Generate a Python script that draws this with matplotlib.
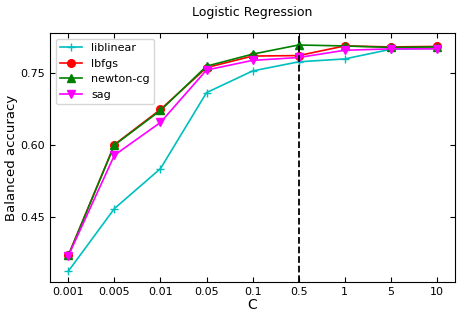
import matplotlib
matplotlib.use("Agg")
import matplotlib.pyplot as plt


C_LABELS = ["0.001", "0.005", "0.01", "0.05", "0.1", "0.5", "1", "5", "10"]
LIBLINEAR = [0.338, 0.468, 0.551, 0.709, 0.754, 0.773, 0.779, 0.799, 0.801]
LBFGS = [0.371, 0.601, 0.674, 0.761, 0.785, 0.786, 0.806, 0.804, 0.805]
NEWTON_CG = [0.371, 0.600, 0.672, 0.764, 0.789, 0.808, 0.806, 0.803, 0.804]
SAG = [0.370, 0.579, 0.647, 0.756, 0.776, 0.782, 0.797, 0.800, 0.800]
BEST_C = "0.5"

SERIES = [
    ("liblinear", LIBLINEAR, "c", "+"),
    ("lbfgs", LBFGS, "r", "o"),
    ("newton-cg", NEWTON_CG, "g", "^"),
    ("sag", SAG, "magenta", "v"),
]


def main():
    fig = plt.figure(figsize=(4.63, 3.17), dpi=100)
    ax = fig.add_axes([0.108, 0.110, 0.875, 0.786])
    x = list(range(len(C_LABELS)))

    for label, values, color, marker in SERIES:
        ax.plot(x, values, color=color, marker=marker, markersize=5.5,
                linewidth=1.2, label=label)

    # best C marked with a dashed line
    ax.axvline(x=C_LABELS.index(BEST_C), color="black", linestyle="--", linewidth=1.3)

    ax.set_xticks(x)
    ax.set_xticklabels(C_LABELS)
    ax.set_yticks([0.45, 0.60, 0.75])
    ax.set_ylim(0.315, 0.833)
    ax.set_xlim(-0.4, 8.4)
    ax.tick_params(direction="in", top=True, right=True, labelsize=8)

    ax.set_title("Logistic Regression", fontsize=9, pad=12)
    ax.set_xlabel("C", fontsize=10, labelpad=1)
    ax.set_ylabel("Balanced accuracy", fontsize=9.5, labelpad=2)
    ax.legend(loc="upper left", fontsize=8)

    fig.savefig("out.png", dpi=100)
    plt.close(fig)


if __name__ == "__main__":
    main()
